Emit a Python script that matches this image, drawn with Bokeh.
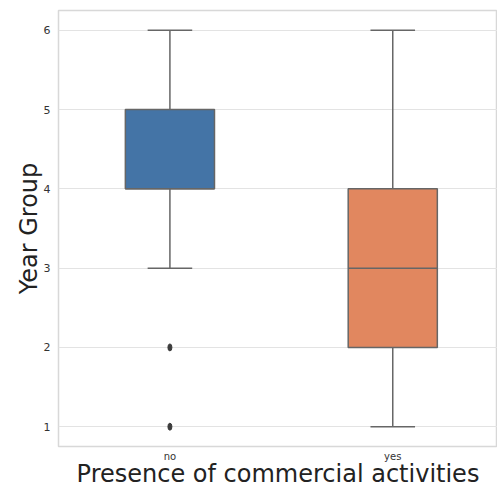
from bokeh.plotting import figure
from bokeh.models import Range1d, FixedTicker, ColumnDataSource
from bokeh.embed import file_html
from bokeh.resources import INLINE

categories = ["no", "yes"]
positions = [0, 1]
q1 = [4, 2]
median = [4, 3]
q3 = [5, 4]
whisker_low = [3, 1]
whisker_high = [6, 6]
outlier_cat = [0, 0]
outlier_val = [2, 1]
colors = ["#4474a6", "#e1875f"]
x_title = "Presence of commercial activities"
y_title = "Year Group"

box_w = 0.4
cap_w = 0.2

p = figure(width=497, height=490, output_backend="svg", toolbar_location=None,
           x_range=Range1d(-0.5, 1.47), y_range=Range1d(0.75, 6.25),
           min_border_left=58, min_border_right=0, min_border_top=10, min_border_bottom=44)

src = ColumnDataSource(dict(
    x=positions, q1=q1, q3=q3, med=median, lo=whisker_low, hi=whisker_high,
    color=colors,
    cl=[v - cap_w / 2 for v in positions], cr=[v + cap_w / 2 for v in positions],
    bl=[v - box_w / 2 for v in positions], br=[v + box_w / 2 for v in positions],
))

line_col = "#666666"
p.segment(x0="x", y0="q3", x1="x", y1="hi", source=src, line_color=line_col, line_width=1.5)
p.segment(x0="x", y0="q1", x1="x", y1="lo", source=src, line_color=line_col, line_width=1.5)
p.segment(x0="cl", y0="hi", x1="cr", y1="hi", source=src, line_color=line_col, line_width=1.5)
p.segment(x0="cl", y0="lo", x1="cr", y1="lo", source=src, line_color=line_col, line_width=1.5)
p.vbar(x="x", width=box_w, bottom="q1", top="q3", source=src, fill_color="color",
       line_color=line_col, line_width=1.5)
p.segment(x0="bl", y0="med", x1="br", y1="med", source=src, line_color=line_col, line_width=1.5)
p.ellipse(x=outlier_cat, y=outlier_val, width=4, height=7, width_units="screen",
          height_units="screen", fill_color="#3d3d3d", line_color="#3d3d3d")

p.xaxis.ticker = FixedTicker(ticks=positions)
p.xaxis.major_label_overrides = {pos: c for pos, c in zip(positions, categories)}
p.yaxis.ticker = FixedTicker(ticks=[1, 2, 3, 4, 5, 6])

for ax in (p.xaxis[0], p.yaxis[0]):
    ax.axis_line_color = None
    ax.major_tick_line_color = None
    ax.minor_tick_line_color = None
    ax.major_tick_out = 0
    ax.major_tick_in = 0
    ax.major_label_text_color = "#333333"
    ax.major_label_text_font = "DejaVu Sans"
    ax.axis_label_text_font = "DejaVu Sans"
    ax.axis_label_text_font_style = "normal"
    ax.axis_label_text_color = "#222222"

p.xaxis.major_label_text_font_size = "10px"
p.yaxis.major_label_text_font_size = "11px"
p.xaxis.axis_label = x_title
p.yaxis.axis_label = y_title
p.xaxis.axis_label_text_font_size = "24px"
p.yaxis.axis_label_text_font_size = "24px"
p.xaxis.axis_label_text_line_height = 0.9
p.xaxis.major_label_text_line_height = 1.0
p.xaxis.major_label_standoff = 4
p.xaxis.axis_label_standoff = -5
p.yaxis.major_label_standoff = 8
p.yaxis.axis_label_standoff = -2

p.xgrid.grid_line_color = None
p.ygrid.grid_line_color = "#e3e3e3"
p.ygrid.grid_line_width = 1.2
p.outline_line_color = "#d8d8d8"
p.outline_line_width = 1.5
p.background_fill_color = "white"
p.border_fill_color = "white"

open("out.html", "w").write(file_html(p, INLINE))
